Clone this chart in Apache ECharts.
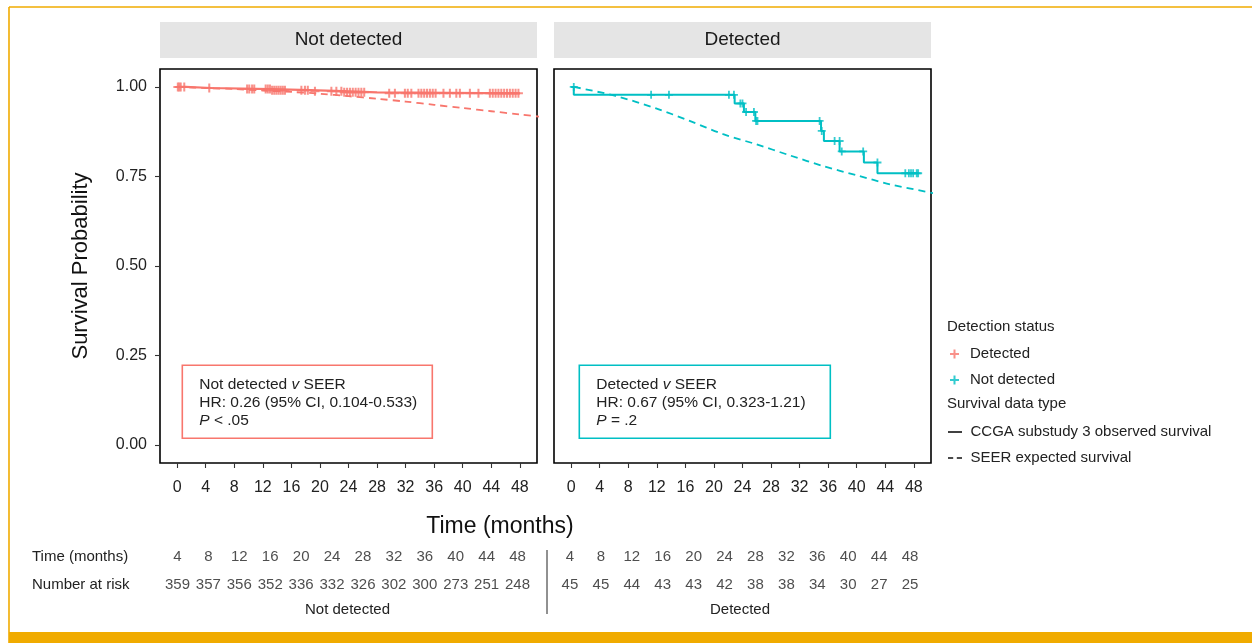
<!DOCTYPE html>
<html>
<head>
<meta charset="utf-8">
<script src="https://cdn.jsdelivr.net/npm/echarts@6/dist/echarts.min.js"></script>
<style>
html,body{margin:0;padding:0;background:#fff;}
#chart{width:1252px;height:643px;}
</style>
</head>
<body>
<div id="chart"></div>
<script>
// ---------- data ----------
const panelTitles = ['Not detected', 'Detected'];
const xTicks = [0,4,8,12,16,20,24,28,32,36,40,44,48];
const yTicks = [0,0.25,0.5,0.75,1];

// Kaplan-Meier observed survival (event time, survival after event)
const kmNotDetected = [[0,1],[1.2,0.997],[4.8,0.994],[13.2,0.991],[18.6,0.988],[23.2,0.985],[28,0.982],[48,0.982]];
const kmDetected = [[0,1],[0.37,0.978],[22.9,0.954],[24.2,0.930],[25.8,0.905],[35.0,0.877],[35.4,0.849],[37.6,0.820],[41.0,0.789],[42.9,0.759],[48.7,0.759]];

// censoring times
const censorNotDetected = [0.1,0.3,0.5,1.0,4.5,9.8,10.1,10.5,10.8,12.4,12.7,13.0,13.3,13.6,13.9,14.2,14.5,14.8,15.1,17.4,17.9,18.3,19.3,21.6,22.3,23.0,23.4,23.8,24.2,24.6,25.0,25.4,25.8,26.2,29.7,30.5,31.9,32.3,32.8,33.8,34.2,34.6,35.0,35.4,35.8,36.2,37.3,38.2,39.1,39.6,41.0,42.2,43.8,44.2,44.6,45.0,45.4,45.8,46.2,46.6,47.0,47.4,47.8];
const censorDetected = [[0.37,1.0],[11.2,0.978],[13.7,0.978],[22.1,0.978],[22.8,0.978],[23.7,0.954],[24.0,0.954],[24.5,0.930],[25.6,0.930],[25.9,0.905],[26.1,0.905],[34.8,0.905],[35.1,0.877],[36.9,0.849],[37.6,0.849],[37.9,0.820],[40.9,0.820],[42.9,0.789],[46.8,0.759],[47.3,0.759],[47.6,0.759],[47.9,0.759],[48.4,0.759],[48.6,0.759]];

// SEER expected survival
const seerNotDetected = [[0,1.0],[4,0.997],[8,0.994],[12,0.990],[16,0.986],[20,0.981],[24,0.974],[28,0.967],[32,0.959],[36,0.950],[40,0.941],[44,0.932],[48,0.923],[50.8,0.917]];
const seerDetected = [[0.4,1.0],[6.2,0.975],[11.9,0.940],[16.6,0.905],[21.3,0.868],[25.9,0.840],[30.6,0.809],[35.3,0.779],[40.0,0.753],[44.7,0.728],[50.8,0.703]];

// risk table
const riskTimes = [4,8,12,16,20,24,28,32,36,40,44,48];
const riskNotDetected = [359,357,356,352,336,332,326,302,300,273,251,248];
const riskDetected = [45,45,44,43,43,42,38,38,34,30,27,25];
const riskRows = ['Time (months)','Number at risk'];

// annotation texts
const annoNotDetected = ['Not detected {i|v} SEER','HR: 0.26 (95% CI, 0.104-0.533)','{i|P} < .05'];
const annoDetected = ['Detected {i|v} SEER','HR: 0.67 (95% CI, 0.323-1.21)','{i|P} = .2'];

// ---------- styling ----------
const PINK = '#F8766D', TEAL = '#00BFC4', ORANGE = '#F0AB00';
const FONT = '"Liberation Sans", Arial, Helvetica, sans-serif';
const CROSS = 'path://M0,3.1H8V4.9H0Z M3.1,0H4.9V8H3.1Z';
const LEG_SOLID = 'path://M0,0H14V1.6H0Z';
const LEG_DASH = 'path://M0,0H5V1.6H0Z M8.5,0H13.5V1.6H8.5Z';

function survAt(km, t){
  let s = km[0][1];
  for (const p of km){ if (p[0] <= t) s = p[1]; }
  return s;
}
const censorLeftData = censorNotDetected.map(t => [t, survAt(kmNotDetected, t)]);

function riskData(vals){
  const d = [];
  riskTimes.forEach((t,i)=>{ d.push([i,0,String(t)]); d.push([i,1,String(vals[i])]); });
  return d;
}

const chart = echarts.init(document.getElementById('chart'), null, {renderer:'canvas'});

const panelX = (gi) => ({
  type:'value', gridIndex:gi, min:-2.4, max:50.4,
  axisLine:{show:false, onZero:false}, splitLine:{show:false},
  axisTick:{show:true, length:5, lineStyle:{color:'#333', width:1.1}, customValues:xTicks},
  axisLabel:{show:true, margin:17, fontSize:16, color:'#222', fontFamily:FONT, customValues:xTicks}
});
const panelY = (gi, show) => ({
  type:'value', gridIndex:gi, min:-0.05, max:1.05,
  axisLine:{show:false, onZero:false}, splitLine:{show:false},
  axisTick:{show:show, length:5, lineStyle:{color:'#333', width:1.1}, customValues:yTicks},
  axisLabel:{show:show, margin:13, fontSize:16, color:'#222', fontFamily:FONT, customValues:yTicks,
    formatter:v=>Number(v).toFixed(2)},
  name: show ? 'Survival Probability' : '',
  nameLocation:'middle', nameGap:68, nameRotate:90,
  nameTextStyle:{fontSize:22, color:'#111', fontFamily:FONT}
});
const tableX = (gi, name) => ({
  type:'category', gridIndex:gi, data:riskTimes.map(String), boundaryGap:true,
  axisLine:{show:false}, axisTick:{show:false}, axisLabel:{show:false}, splitLine:{show:false},
  name:name, nameLocation:'middle', nameGap:3,
  nameTextStyle:{fontSize:15, color:'#222', fontFamily:FONT}
});
const tableY = (gi, show) => ({
  type:'category', gridIndex:gi, data:riskRows, inverse:true,
  axisLine:{show:false}, axisTick:{show:false}, splitLine:{show:false},
  axisLabel:{show:show, align:'left', margin:130, fontSize:15, color:'#222', fontFamily:FONT}
});

const tableSeries = (gi, vals) => ({
  type:'scatter', xAxisIndex:gi, yAxisIndex:gi, data:riskData(vals),
  symbolSize:1, itemStyle:{color:'rgba(0,0,0,0)'}, silent:true,
  label:{show:true, position:'inside', formatter:p=>p.value[2], fontSize:15, color:'#222', fontFamily:FONT}
});

function annoGraphic(x, y, w, h, color, lines){
  return {
    type:'group', left:x, top:y, z:50,
    children:[
      {type:'rect', shape:{x:0,y:0,width:w,height:h}, style:{fill:'#fff', stroke:color, lineWidth:1.6}},
      {type:'text', x:17, y:10, style:{text:lines.join('\n'), font:'15.5px '+FONT, fill:'#222', lineHeight:18,
        rich:{i:{fontStyle:'italic', fontSize:15.5, fontFamily:FONT, fill:'#222', lineHeight:18}}}}
    ]
  };
}

const option = {
  backgroundColor:'#fff',
  animation:false,
  textStyle:{fontFamily:FONT},
  grid:[
    {left:160, top:69, width:377, height:394, show:true, borderColor:'#000', borderWidth:1.6, backgroundColor:'#fff'},
    {left:554, top:69, width:377, height:394, show:true, borderColor:'#000', borderWidth:1.6, backgroundColor:'#fff'},
    {left:162, top:543, width:371, height:56},
    {left:554.5, top:543, width:371, height:56}
  ],
  xAxis:[panelX(0), panelX(1), tableX(2,'Not detected'), tableX(3,'Detected')],
  yAxis:[panelY(0,true), panelY(1,false), tableY(2,true), tableY(3,false)],
  legend:[
    {orient:'vertical', left:945, top:341.5, itemWidth:21, itemHeight:9, itemGap:11, selectedMode:false,
     textStyle:{fontSize:15, color:'#222', fontFamily:FONT},
     data:[{name:'Detected', icon:CROSS},{name:'Not detected', icon:CROSS}]},
    {orient:'vertical', left:943, top:419.5, itemWidth:14, itemHeight:9, itemGap:11, selectedMode:false,
     textStyle:{fontSize:15, color:'#222', fontFamily:FONT, padding:[0,0,0,3.5]},
     data:[{name:'CCGA substudy 3 observed survival', icon:LEG_SOLID},{name:'SEER expected survival', icon:LEG_DASH}]}
  ],
  series:[
    {name:'SEER_L', type:'line', xAxisIndex:0, yAxisIndex:0, data:seerNotDetected, showSymbol:false, smooth:0.3,
     lineStyle:{color:PINK, width:1.8, type:[7,5]}, itemStyle:{color:PINK}, z:2},
    {name:'OBS_L', type:'line', xAxisIndex:0, yAxisIndex:0, data:kmNotDetected, step:'end', showSymbol:false,
     lineStyle:{color:PINK, width:2.2}, itemStyle:{color:PINK}, z:3},
    {name:'Detected', type:'scatter', xAxisIndex:0, yAxisIndex:0, data:censorLeftData, symbol:CROSS, symbolSize:9,
     itemStyle:{color:PINK}, z:4},
    {name:'SEER_R', type:'line', xAxisIndex:1, yAxisIndex:1, data:seerDetected, showSymbol:false, smooth:0.3,
     lineStyle:{color:TEAL, width:1.8, type:[7,5]}, itemStyle:{color:TEAL}, z:2},
    {name:'OBS_R', type:'line', xAxisIndex:1, yAxisIndex:1, data:kmDetected, step:'end', showSymbol:false,
     lineStyle:{color:TEAL, width:2}, itemStyle:{color:TEAL}, z:3},
    {name:'Not detected', type:'scatter', xAxisIndex:1, yAxisIndex:1, data:censorDetected, symbol:CROSS, symbolSize:8,
     itemStyle:{color:TEAL}, z:4},
    {name:'CCGA substudy 3 observed survival', type:'line', xAxisIndex:0, yAxisIndex:0, data:[], showSymbol:false, symbol:'none',
     lineStyle:{color:'#111', width:1.6}, itemStyle:{color:'#111'}},
    {name:'SEER expected survival', type:'line', xAxisIndex:0, yAxisIndex:0, data:[], showSymbol:false, symbol:'none',
     lineStyle:{color:'#111', width:1.6, type:[4,3]}, itemStyle:{color:'#111'}},
    tableSeries(2, riskNotDetected),
    tableSeries(3, riskDetected)
  ],
  graphic:[
    // outer frame
    {type:'line', shape:{x1:9, y1:7, x2:1252, y2:7}, style:{stroke:ORANGE, lineWidth:1.6}},
    {type:'line', shape:{x1:9, y1:7, x2:9, y2:632}, style:{stroke:ORANGE, lineWidth:1.6}},
    {type:'rect', shape:{x:8.2, y:632, width:1244, height:11}, style:{fill:ORANGE}},
    // facet strips
    {type:'rect', shape:{x:160, y:22, width:377, height:36}, style:{fill:'#E5E5E5'}},
    {type:'text', x:348.5, y:40, style:{text:panelTitles[0], font:'19px '+FONT, fill:'#1a1a1a', align:'center', verticalAlign:'middle'}},
    {type:'rect', shape:{x:554, y:22, width:377, height:36}, style:{fill:'#E5E5E5'}},
    {type:'text', x:742.5, y:40, style:{text:panelTitles[1], font:'19px '+FONT, fill:'#1a1a1a', align:'center', verticalAlign:'middle'}},
    // x axis title
    {type:'text', x:500, y:527, style:{text:'Time (months)', font:'23px '+FONT, fill:'#111', align:'center', verticalAlign:'middle'}},
    // legend titles
    {type:'text', x:947, y:327, style:{text:'Detection status', font:'15px '+FONT, fill:'#222', verticalAlign:'middle'}},
    {type:'text', x:947, y:404, style:{text:'Survival data type', font:'15px '+FONT, fill:'#222', verticalAlign:'middle'}},
    // risk table divider
    {type:'line', shape:{x1:547, y1:550, x2:547, y2:614}, style:{stroke:'#222', lineWidth:1}},
    // annotations
    annoGraphic(181.5, 364.5, 250, 73, PINK, annoNotDetected),
    annoGraphic(578.5, 364.5, 251, 73, TEAL, annoDetected)
  ]
};
chart.setOption(option);
</script>
</body>
</html>
